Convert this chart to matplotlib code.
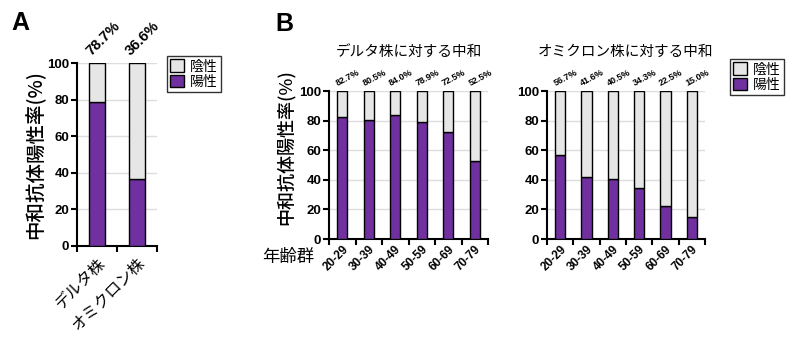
import matplotlib
matplotlib.use("Agg")
import matplotlib.pyplot as plt
from matplotlib.patches import Patch
import numpy as np

plt.rcParams['font.family'] = ['Liberation Sans', 'Noto Sans CJK JP', 'DejaVu Sans']

# Panel A: overall positivity by variant
variants = ["デルタ株", "オミクロン株"]
variant_pos = [78.7, 36.6]

# Panel B: positivity by age group
age_groups = ["20-29", "30-39", "40-49", "50-59", "60-69", "70-79"]
delta_pos = [82.7, 80.5, 84.0, 78.9, 72.5, 52.5]
omicron_pos = [56.7, 41.6, 40.5, 34.3, 22.5, 15.0]

legend_labels = ["陰性", "陽性"]
ylabel = "中和抗体陽性率(%)"
titles_b = ["デルタ株に対する中和", "オミクロン株に対する中和"]

PURPLE = "#7030A0"
GREY = "#E6E6E6"
JP = ['Noto Sans CJK JP', 'DejaVu Sans']

W, H = 800, 344
fig = plt.figure(figsize=(W / 100, H / 100), dpi=100)


def px_axes(x0, x1, ytop, ybot):
    return fig.add_axes([x0 / W, 1 - ybot / H, (x1 - x0) / W, (ybot - ytop) / H])


def stacked(ax, values, width, tick_fs, pct_fs, pct_rot, pct_dx, cat_labels, cat_fs,
            cat_family, cat_pad):
    x = np.arange(len(values))
    pos = np.array(values)
    ax.bar(x, pos, width=width, color=PURPLE, edgecolor="black", linewidth=1.0, zorder=3)
    ax.bar(x, 100 - pos, bottom=pos, width=width, color=GREY, edgecolor="black",
           linewidth=1.0, zorder=3)
    ax.set_xlim(-0.5, len(values) - 0.5)
    ax.set_ylim(0, 100)
    ax.set_yticks([0, 20, 40, 60, 80, 100])
    ax.yaxis.grid(True, color="#DDDDDD", linewidth=1.0, zorder=0)
    ax.set_axisbelow(True)
    for s in ("top", "right"):
        ax.spines[s].set_visible(False)
    for s in ("left", "bottom"):
        ax.spines[s].set_linewidth(1.5)
    ax.tick_params(axis="y", length=4, width=1.5, labelsize=tick_fs, pad=1.5)
    for t in ax.get_yticklabels():
        t.set_fontweight("bold")
    # category ticks sit between bars
    ax.set_xticks(np.arange(len(values) + 1) - 0.5, minor=True)
    ax.tick_params(axis="x", which="minor", length=4, width=1.5)
    ax.set_xticks(x)
    ax.tick_params(axis="x", which="major", length=0, pad=cat_pad)
    ax.set_xticklabels(cat_labels, rotation=45, ha="right", rotation_mode="anchor",
                       fontsize=cat_fs, family=cat_family,
                       fontweight="bold" if cat_family is None else "normal")
    for xi, v in zip(x, values):
        ax.text(xi + pct_dx, 102.5, f"{v:.1f}%", rotation=pct_rot, rotation_mode="anchor",
                ha="left", va="bottom", fontsize=pct_fs, fontweight="bold", clip_on=False)


# ---- Panel A ----
axA = px_axes(77, 157, 63, 246)
stacked(axA, variant_pos, 0.42, 9.5, 10.5, 45, -0.1, variants, 11.5, JP, 6)
axA.set_ylabel(ylabel, family=JP, fontsize=14, fontweight="medium")
axA.yaxis.set_label_coords(-0.40, 0.5)

# ---- Panel B ----
axB1 = px_axes(329, 488, 91, 239)
stacked(axB1, delta_pos, 0.38, 9.5, 6.5, 28, -0.13, age_groups, 8.5, None, 3)
axB1.set_ylabel(ylabel, family=JP, fontsize=13, fontweight="medium")
axB1.yaxis.set_label_coords(-0.214, 0.62)
axB1.set_title(titles_b[0], family=JP, fontsize=10.5, pad=25)

axB2 = px_axes(547, 705, 91, 239)
stacked(axB2, omicron_pos, 0.38, 9.5, 6.5, 28, -0.13, age_groups, 8.5, None, 3)
axB2.set_title(titles_b[1], family=JP, fontsize=10.5, pad=25)

fig.text(288 / W, 1 - 257 / H, "年齢群", family=JP, fontsize=12.5, ha="center", va="center")

# panel letters
fig.text(20 / W, 1 - 23 / H, "A", fontsize=18, fontweight="bold", ha="center", va="center")
fig.text(284 / W, 1 - 24 / H, "B", fontsize=18, fontweight="bold", ha="center", va="center")

# legends
handles = [Patch(facecolor=GREY, edgecolor="black", linewidth=1.0),
           Patch(facecolor=PURPLE, edgecolor="black", linewidth=1.0)]
for (lx, ly) in [(167, 56), (730, 59)]:
    leg = fig.legend(handles, legend_labels, loc="upper left",
                     bbox_to_anchor=(lx / W, 1 - ly / H), prop={"family": JP, "size": 10},
                     frameon=True, fancybox=False, edgecolor="black", borderpad=0.25,
                     handlelength=1.0, handleheight=1.0, handletextpad=0.4,
                     labelspacing=0.1, borderaxespad=0)
    leg.get_frame().set_linewidth(1.0)

fig.savefig("out.png", dpi=100, facecolor="white")
